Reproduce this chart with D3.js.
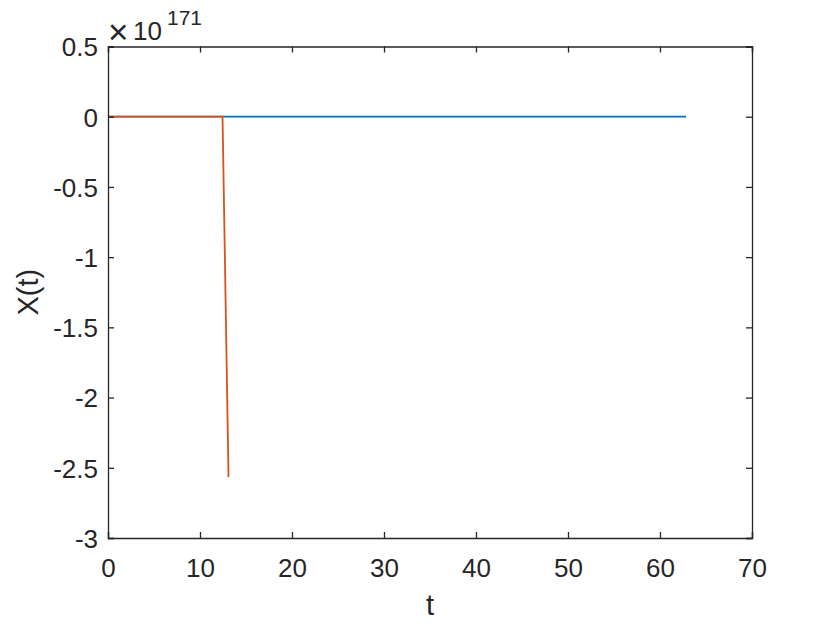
<!DOCTYPE html>
<html><head><meta charset="utf-8">
<script src="https://cdn.jsdelivr.net/npm/d3@7"></script>
<style>body{margin:0;background:#fff;} text{font-family:"Liberation Sans",Arial,Helvetica,sans-serif;fill:#262626;}</style>
</head><body>
<svg id="c" width="830" height="623"></svg>
<script>
// data (values in units of 1e171)
const blueT = [0, 62.83];
const blueX = [0, 0];
const redT = [0, 12.45, 13.1];
const redX = [0, 0, -2.566];
const xTicks = [0,10,20,30,40,50,60,70];
const yTicks = [0.5,0,-0.5,-1,-1.5,-2,-2.5,-3];
const yTickLabels = ["0.5","0","-0.5","-1","-1.5","-2","-2.5","-3"];
const exponent = "171";

const svg = d3.select("#c");
const L=108, R=752, T=46.5, B=538;
const x = d3.scaleLinear().domain([0,70]).range([L,R]);
const y = d3.scaleLinear().domain([-3,0.5]).range([B,T]);
const ax = "#262626";
const FS = 26;

const line = d3.line().x(d=>x(d[0])).y(d=>y(d[1]));
svg.append("path").datum(blueT.map((t,i)=>[t,blueX[i]]))
  .attr("d",line).attr("fill","none").attr("stroke","#0072BD").attr("stroke-width",1.8);
svg.append("path").datum(redT.map((t,i)=>[t,redX[i]]))
  .attr("d",line).attr("fill","none").attr("stroke","#D95319").attr("stroke-width",1.8);

// axes
const tl=6;
const gB = svg.append("g").attr("transform",`translate(0,${B})`)
  .call(d3.axisBottom(x).tickValues(xTicks).tickSize(-tl).tickFormat(d3.format("d")));
const gT = svg.append("g").attr("transform",`translate(0,${T})`)
  .call(d3.axisTop(x).tickValues(xTicks).tickSize(-tl).tickFormat(""));
const gL = svg.append("g").attr("transform",`translate(${L},0)`)
  .call(d3.axisLeft(y).tickValues(yTicks).tickSize(-tl).tickFormat((d,i)=>yTickLabels[i]));
const gR = svg.append("g").attr("transform",`translate(${R},0)`)
  .call(d3.axisRight(y).tickValues(yTicks).tickSize(-tl).tickFormat(""));
[gB,gT,gL,gR].forEach(g=>{
  g.attr("font-size",null).attr("font-family",null);
  g.select(".domain").attr("stroke",ax).attr("stroke-width",1.3);
  g.selectAll(".tick line").attr("stroke",ax).attr("stroke-width",1.3);
  g.selectAll(".tick text").style("font-size",FS+"px").attr("fill",ax);
});
gB.selectAll(".tick text").attr("y",39).attr("dy",0);
gL.selectAll(".tick text").attr("x",-10).attr("dy","0.36em");

// exponent
svg.append("text").attr("x",108).attr("y",44).style("font-size","35px").text("×");
svg.append("text").attr("x",133).attr("y",40).style("font-size",FS+"px").text("10");
svg.append("text").attr("x",167).attr("y",25).style("font-size","21px").text(exponent);

// labels
svg.append("text").attr("x",x(35)).attr("y",615).attr("text-anchor","middle").style("font-size","29px").text("t");
svg.append("text").attr("transform",`translate(38,${(T+B)/2}) rotate(-90)`)
  .attr("text-anchor","middle").style("font-size","29px").text("X(t)");
</script>
</body></html>
